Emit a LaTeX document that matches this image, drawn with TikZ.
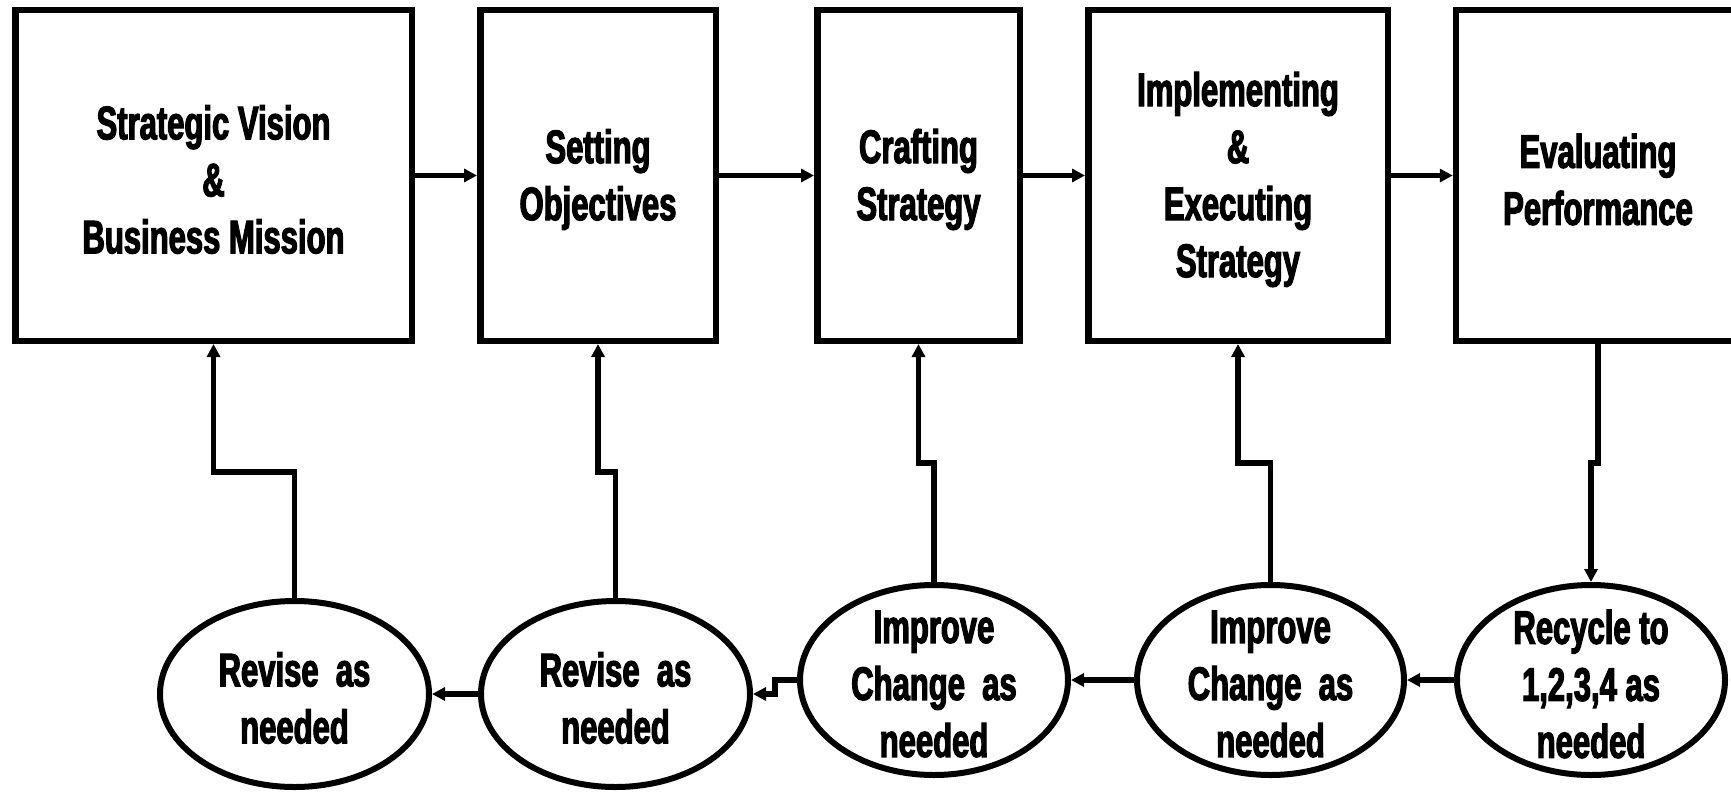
\documentclass[tikz,border=0pt]{standalone}
\usepackage{fontspec}
\newfontfamily\hfont{Liberation Sans}[UprightFont=* Bold, FakeStretch=0.66, FakeBold=2.5]
\usetikzlibrary{shapes.geometric,arrows.meta}
\begin{document}
\begin{tikzpicture}[x=1pt,y=-1pt,
  labelfont/.style={font=\hfont\fontsize{47}{57}\selectfont},
  stagebox/.style={draw, line width=6.5pt, rectangle, inner sep=0pt, minimum height=330.5pt, align=center, labelfont},
  boxtxt/.style={align=center, inner sep=0pt, labelfont, yshift=-4pt},
  loopell/.style={draw, line width=6pt, ellipse, inner sep=0pt},
  looptxt/.style={align=center, inner sep=0pt, labelfont, yshift=-4pt},
  arr/.style={line width=5.5pt, -{Triangle[length=13pt,width=13pt]}},
]
\useasboundingbox (0,0) rectangle (1731,792);
\clip (0,0) rectangle (1731,792);

% stage boxes
\node[stagebox, minimum width=396.5pt] (b1) at (213.5,175.5) {};
\node[stagebox, minimum width=235.5pt] (b2) at (598,175.5) {};
\node[stagebox, minimum width=202.5pt] (b3) at (918.5,175.5) {};
\node[stagebox, minimum width=299.5pt] (b4) at (1238,175.5) {};
\node[stagebox, minimum width=284pt] (b5) at (1598,175.5) {};

\node[boxtxt] (s1) at (b1) {Strategic Vision\\\&\\Business Mission};
\node[boxtxt] (s2) at (b2) {Setting\\Objectives};
\node[boxtxt] (s3) at (b3) {Crafting\\Strategy};
\node[boxtxt] (s4) at (b4) {Implementing\\\&\\Executing\\Strategy};
\node[boxtxt] (s5) at (b5) {Evaluating\\Performance};

% feedback ellipses
\node[loopell, minimum width=269pt, minimum height=186pt] (e1) at (294.5,694) {};
\node[loopell, minimum width=269pt, minimum height=186pt] (e2) at (615.5,694) {};
\node[loopell, minimum width=268pt, minimum height=190pt] (e3) at (934,680) {};
\node[loopell, minimum width=267pt, minimum height=190pt] (e4) at (1270.5,680) {};
\node[loopell, minimum width=268pt, minimum height=190pt] (e5) at (1591,680) {};

\node[looptxt] (t1) at (e1) {Revise\ \ as\\needed};
\node[looptxt] (t2) at (e2) {Revise\ \ as\\needed};
\node[looptxt] (t3) at (e3) {Improve\\Change\ \ as\\needed};
\node[looptxt] (t4) at (e4) {Improve\\Change\ \ as\\needed};
\node[looptxt] (t5) at (e5) {Recycle to\\1,2,3,4 as\\needed};

% jog points
\coordinate (j1) at (213.5,472);
\coordinate (j2) at (598,472);
\coordinate (j3) at (918.5,463);
\coordinate (j4) at (1238,463);
\coordinate (j5) at (1591,463);

% forward arrows
\draw[arr] (b1.east) -- (b2.west);
\draw[arr] (b2.east) -- (b3.west);
\draw[arr] (b3.east) -- (b4.west);
\draw[arr] (b4.east) -- (b5.west);

% feedback up
\draw[arr] (e1.north) |- (j1) -- (b1.south);
\draw[arr] (e2.north) |- (j2) -- (b2.south);
\draw[arr] (e3.north) |- (j3) -- (b3.south);
\draw[arr] (e4.north) |- (j4) -- (b4.south);
\draw[arr] (b5.south) |- (j5) -- (e5.north);

% bottom chain
\draw[arr] (e5.west) -- (e4.east);
\draw[arr] (e4.west) -- (e3.east);
\draw[arr] (e3.west) -- ++(-22,0) |- (e2.east);
\draw[arr] (e2.west) -- (e1.east);
\end{tikzpicture}
\end{document}
